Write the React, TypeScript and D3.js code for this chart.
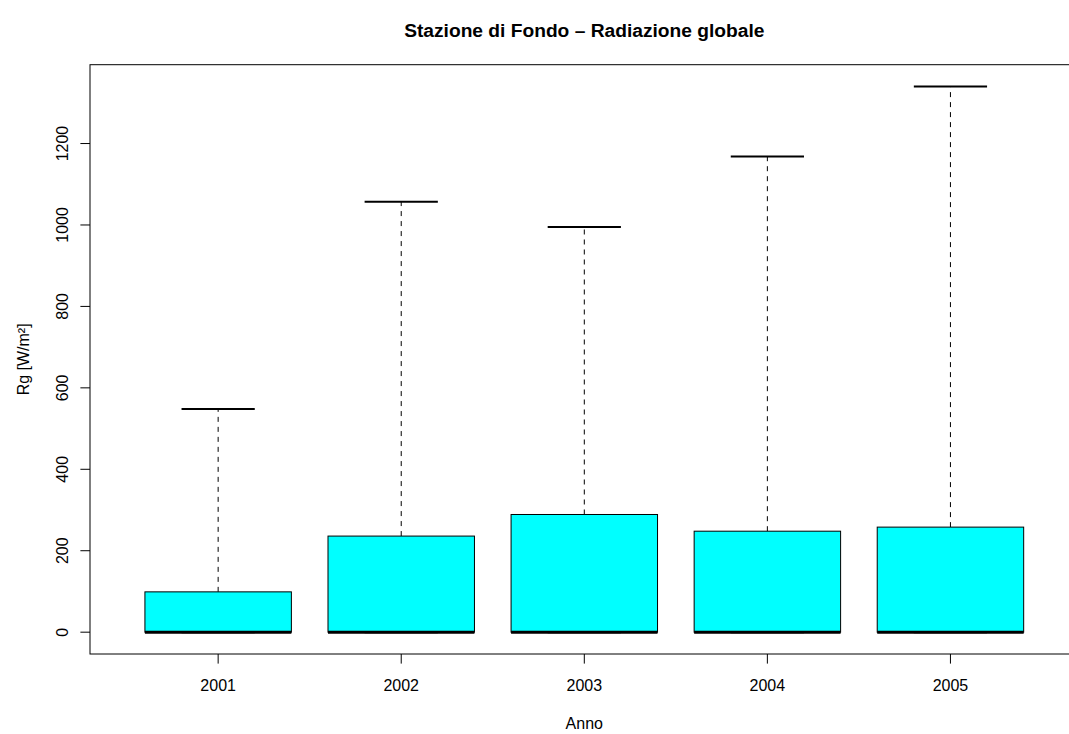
import React from "react";
import * as d3 from "d3";

const years = ["2001", "2002", "2003", "2004", "2005"];
const whiskerLow = [0, 0, 0, 0, 0];
const q1 = [0, 0, 0, 0, 0];
const median = [0, 0, 0, 0, 0];
const q3 = [99, 236, 289, 248, 258];
const whiskerHigh = [548, 1057, 995, 1168, 1340];
const yTicks = [0, 200, 400, 600, 800, 1000, 1200];

const W = 1069;
const H = 734;
const FONT = "'Liberation Sans', Arial, Helvetica, sans-serif";

export default function App() {
  const left = 90;
  const right = 1078.6;
  const top = 64.7;
  const bottom = 654;

  const x = d3.scaleLinear().domain([0.3, years.length + 0.7]).range([left, right]);
  const yMax = d3.max(whiskerHigh) as number;
  const yMin = d3.min(whiskerLow) as number;
  const ext = (yMax - yMin) * 0.04;
  const y = d3.scaleLinear().domain([yMin - ext, yMax + ext]).range([bottom, top]);

  const boxHalf = 0.4;
  const capHalf = 0.2;
  const plotCx = (left + right) / 2;

  return (
    <svg
      width={W}
      height={H}
      style={{ position: "absolute", left: 0, top: 0, background: "#fff" }}
      fontFamily={FONT}
    >
      <rect x={0} y={0} width={W} height={H} fill="#fff" />
      {years.map((yr, i) => {
        const c = i + 1;
        const cx = x(c);
        return (
          <g key={yr}>
            {/* upper whisker */}
            <line x1={cx} x2={cx} y1={y(q3[i])} y2={y(whiskerHigh[i])} stroke="#000" strokeWidth={1} strokeDasharray="5,5" />
            {/* lower whisker */}
            <line x1={cx} x2={cx} y1={y(q1[i])} y2={y(whiskerLow[i])} stroke="#000" strokeWidth={1} strokeDasharray="5,5" />
            {/* caps */}
            <line x1={x(c - capHalf)} x2={x(c + capHalf)} y1={y(whiskerHigh[i])} y2={y(whiskerHigh[i])} stroke="#000" strokeWidth={2} />
            <line x1={x(c - capHalf)} x2={x(c + capHalf)} y1={y(whiskerLow[i])} y2={y(whiskerLow[i])} stroke="#000" strokeWidth={2} />
            {/* box */}
            <rect
              x={x(c - boxHalf)}
              y={y(q3[i])}
              width={x(c + boxHalf) - x(c - boxHalf)}
              height={Math.max(0, y(q1[i]) - y(q3[i]))}
              fill="#00FFFF"
              stroke="#000"
              strokeWidth={1}
            />
            {/* median */}
            <line x1={x(c - boxHalf)} x2={x(c + boxHalf)} y1={y(median[i])} y2={y(median[i])} stroke="#000" strokeWidth={3} />
          </g>
        );
      })}

      {/* frame */}
      <rect x={left} y={top} width={right - left} height={bottom - top} fill="none" stroke="#000" strokeWidth={1} />

      {/* y axis ticks */}
      {yTicks.map((t) => (
        <g key={t}>
          <line x1={left - 9.6} x2={left} y1={y(t)} y2={y(t)} stroke="#000" strokeWidth={1} />
          <text
            transform={`translate(68,${y(t)}) rotate(-90)`}
            textAnchor="middle"
            fontSize={16}
            fill="#000"
          >
            {t}
          </text>
        </g>
      ))}

      {/* x axis ticks */}
      {years.map((yr, i) => (
        <g key={yr}>
          <line x1={x(i + 1)} x2={x(i + 1)} y1={bottom} y2={bottom + 9.6} stroke="#000" strokeWidth={1} />
          <text x={x(i + 1)} y={690.7} textAnchor="middle" fontSize={16} fill="#000">
            {yr}
          </text>
        </g>
      ))}

      {/* labels */}
      <text x={plotCx} y={36.5} textAnchor="middle" fontSize={19.2} fontWeight="bold" fill="#000">
        Stazione di Fondo – Radiazione globale
      </text>
      <text x={plotCx} y={729.3} textAnchor="middle" fontSize={16} fill="#000">
        Anno
      </text>
      <text
        transform={`translate(29,${(top + bottom) / 2}) rotate(-90)`}
        textAnchor="middle"
        fontSize={16}
        fill="#000"
      >
        Rg [W/m²]
      </text>
    </svg>
  );
}
